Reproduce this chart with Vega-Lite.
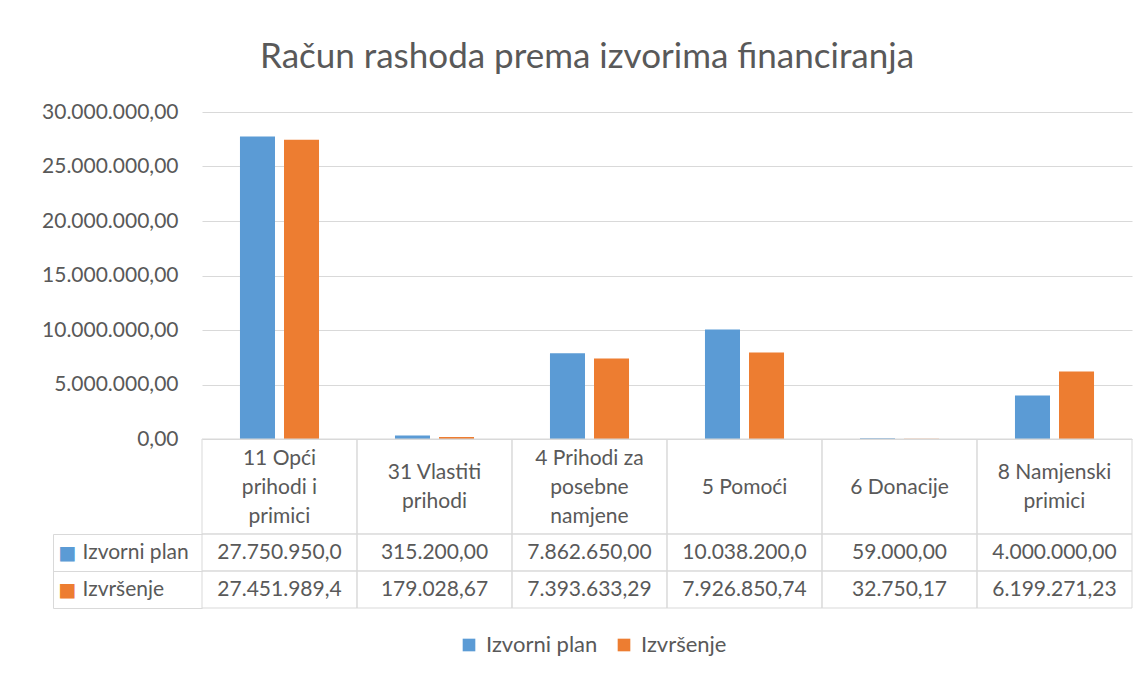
{
  "$schema": "https://vega.github.io/schema/vega-lite/v6.json",
  "background": "white",
  "padding": {"left": 41, "top": 40, "right": 14, "bottom": 5},
  "title": {"text": "Račun rashoda prema izvorima financiranja", "fontSize": 35, "font": "Lato", "fontWeight": "normal", "color": "#595959", "anchor": "middle", "offset": 26},
  "config": {
    "font": "Lato",
    "locale": {"number": {"decimal": ",", "thousands": ".", "grouping": [3], "currency": ["", ""]}},
    "view": {"stroke": null}
  },
  "datasets": {
    "main": [
      {"source": "11 Opći\nprihodi i\nprimici", "series": "Izvorni plan", "value": 27750950.00, "label": "27.750.950,0"},
      {"source": "31 Vlastiti\nprihodi", "series": "Izvorni plan", "value": 315200.00, "label": "315.200,00"},
      {"source": "4 Prihodi za\nposebne\nnamjene", "series": "Izvorni plan", "value": 7862650.00, "label": "7.862.650,00"},
      {"source": "5 Pomoći", "series": "Izvorni plan", "value": 10038200.00, "label": "10.038.200,0"},
      {"source": "6 Donacije", "series": "Izvorni plan", "value": 59000.00, "label": "59.000,00"},
      {"source": "8 Namjenski\nprimici", "series": "Izvorni plan", "value": 4000000.00, "label": "4.000.000,00"},
      {"source": "11 Opći\nprihodi i\nprimici", "series": "Izvršenje", "value": 27451989.40, "label": "27.451.989,4"},
      {"source": "31 Vlastiti\nprihodi", "series": "Izvršenje", "value": 179028.67, "label": "179.028,67"},
      {"source": "4 Prihodi za\nposebne\nnamjene", "series": "Izvršenje", "value": 7393633.29, "label": "7.393.633,29"},
      {"source": "5 Pomoći", "series": "Izvršenje", "value": 7926850.74, "label": "7.926.850,74"},
      {"source": "6 Donacije", "series": "Izvršenje", "value": 32750.17, "label": "32.750,17"},
      {"source": "8 Namjenski\nprimici", "series": "Izvršenje", "value": 6199271.23, "label": "6.199.271,23"}
    ]
  },
  "bounds": "flush",
  "spacing": 0,
  "vconcat": [
    {
      "width": 930,
      "height": 327,
      "data": {"name": "main"},
      "mark": {"type": "bar"},
      "encoding": {
        "x": {"field": "source", "type": "nominal", "sort": null, "scale": {"paddingInner": 0.49, "paddingOuter": 0.245}, "axis": null},
        "xOffset": {"field": "series", "type": "nominal", "sort": ["Izvorni plan", "Izvršenje"], "scale": {"paddingInner": 0.2045, "paddingOuter": 0}},
        "y": {"field": "value", "type": "quantitative", "scale": {"domain": [0, 30000000], "nice": false},
          "axis": {"title": null, "format": ",.2f", "values": [0, 5000000, 10000000, 15000000, 20000000, 25000000, 30000000], "grid": true, "gridColor": "#d9d9d9", "gridWidth": 1, "domain": false, "ticks": false, "labelPadding": 24, "labelFontSize": 21, "labelColor": "#595959"}},
        "color": {"field": "series", "type": "nominal", "scale": {"domain": ["Izvorni plan", "Izvršenje"], "range": ["#5b9bd5", "#ed7d31"]},
          "legend": {"orient": "none", "legendX": 256, "legendY": 522, "direction": "horizontal", "title": null, "symbolType": "square", "symbolSize": 160, "symbolStrokeWidth": 0, "labelFontSize": 22, "labelColor": "#595959", "labelOffset": 6, "columnPadding": 15, "labelLimit": 300}}
      }
    },
    {
      "width": 930,
      "height": 95,
      "data": {"name": "main"},
      "transform": [
        {"filter": "datum.series === 'Izvorni plan'"},
        {"calculate": "length(split(datum.source, '\\n'))", "as": "nlines"}
      ],
      "encoding": {
        "x": {"field": "source", "type": "nominal", "sort": null, "scale": {"paddingInner": 0, "paddingOuter": 0}, "axis": null}
      },
      "layer": [
        {"mark": {"type": "rect", "fill": "transparent", "stroke": "#d9d9d9", "strokeWidth": 1}},
        {"transform": [{"filter": "datum.nlines === 1"}], "mark": {"type": "text", "lineBreak": "\n", "fontSize": 21, "lineHeight": 29, "color": "#595959", "baseline": "middle", "dy": 1}, "encoding": {"text": {"field": "source", "type": "nominal"}}},
        {"transform": [{"filter": "datum.nlines === 2"}], "mark": {"type": "text", "lineBreak": "\n", "fontSize": 21, "lineHeight": 29, "color": "#595959", "baseline": "middle", "dy": -13.5}, "encoding": {"text": {"field": "source", "type": "nominal"}}},
        {"transform": [{"filter": "datum.nlines === 3"}], "mark": {"type": "text", "lineBreak": "\n", "fontSize": 21, "lineHeight": 29, "color": "#595959", "baseline": "middle", "dy": -28}, "encoding": {"text": {"field": "source", "type": "nominal"}}}
      ]
    },
    {
      "width": 930,
      "height": 74,
      "data": {"name": "main"},
      "encoding": {
        "x": {"field": "source", "type": "nominal", "sort": null, "scale": {"paddingInner": 0, "paddingOuter": 0}, "axis": null}
      },
      "layer": [
        {
          "mark": {"type": "rect", "fill": "transparent", "stroke": "#d9d9d9", "strokeWidth": 1},
          "encoding": {
            "y": {"field": "series", "type": "nominal", "sort": ["Izvorni plan", "Izvršenje"], "scale": {"paddingInner": 0, "paddingOuter": 0},
              "axis": {"orient": "left", "title": null, "domain": false, "ticks": true, "tickSize": 149, "tickBand": "extent", "tickColor": "#d9d9d9", "tickWidth": 1, "labelAlign": "left", "labelPadding": -29, "labelFontSize": 21, "labelColor": "#595959", "grid": false}}
          }
        },
        {
          "mark": {"type": "text", "fontSize": 21, "color": "#595959"},
          "encoding": {
            "y": {"field": "series", "type": "nominal", "sort": ["Izvorni plan", "Izvršenje"], "scale": {"paddingInner": 0, "paddingOuter": 0},
              "axis": {"orient": "left", "title": null, "offset": 149, "domain": true, "domainColor": "#d9d9d9", "domainWidth": 1, "ticks": false, "labelExpr": "'■'", "labelAlign": "left", "labelPadding": -5, "labelFont": "DejaVu Sans", "labelFontSize": 19,
                "labelColor": {"condition": {"test": "datum.value === 'Izvorni plan'", "value": "#5b9bd5"}, "value": "#ed7d31"}, "grid": false}},
            "text": {"field": "label", "type": "nominal"}
          }
        }
      ],
      "resolve": {"axis": {"y": "independent"}}
    }
  ]
}
